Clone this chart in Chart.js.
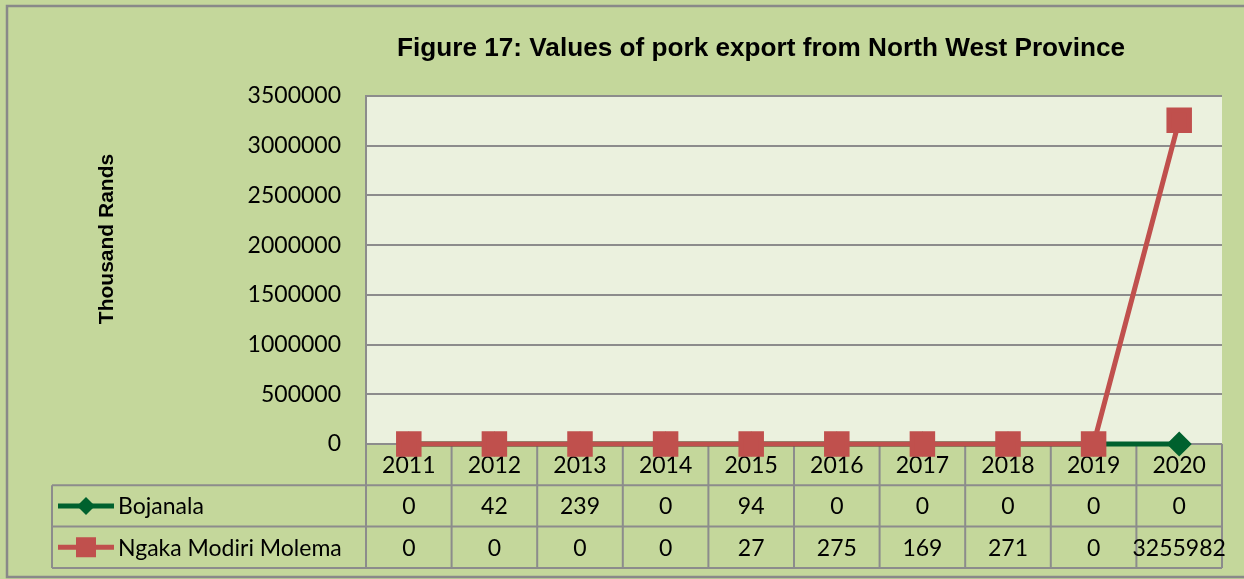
<!DOCTYPE html>
<html>
<head>
<meta charset="utf-8">
<script src="https://cdn.jsdelivr.net/npm/chart.js@4.4.1/dist/chart.umd.min.js"></script>
<style>
html,body{margin:0;padding:0;background:#C4D79B;}
canvas{display:block;}
</style>
</head>
<body>
<canvas id="c" width="1244" height="579"></canvas>
<script>
const chartTitle = "Figure 17: Values of pork export from North West Province";
const yAxisTitle = "Thousand Rands";
const categories = ["2011","2012","2013","2014","2015","2016","2017","2018","2019","2020"];
const seriesNames = ["Bojanala","Ngaka Modiri Molema"];
const bojanala = [0,42,239,0,94,0,0,0,0,0];
const ngaka = [0,0,0,0,27,275,169,271,0,3255982];
const yTicks = [0,500000,1000000,1500000,2000000,2500000,3000000,3500000];

const BG = "#C4D79B", PLOT_BG = "#EBF1DE", GRID = "#8C8C8C";
const RED = "#C0504D", GREEN = "#00612E";
const TXT_FONT = "Lato, 'Open Sans', sans-serif";

const decor = {
  id: "decor",
  beforeDraw(chart) {
    const ctx = chart.ctx, a = chart.chartArea;
    ctx.save();
    ctx.fillStyle = BG;
    ctx.fillRect(0, 0, chart.width, chart.height);
    ctx.fillStyle = PLOT_BG;
    ctx.fillRect(a.left, a.top, a.right - a.left, a.bottom - a.top);
    ctx.strokeStyle = "#898989";
    ctx.lineWidth = 2.5;
    ctx.strokeRect(7, 6, 1300, 571);
    // title
    ctx.fillStyle = "#000";
    ctx.font = "bold 25px 'Liberation Sans', Arial, sans-serif";
    ctx.textBaseline = "alphabetic";
    ctx.textAlign = "center";
    const w = ctx.measureText(chartTitle).width;
    const target = 728;
    ctx.save();
    ctx.translate(761, 56);
    ctx.scale(target / w, 1);
    ctx.fillText(chartTitle, 0, 0);
    ctx.restore();
    // y title
    ctx.save();
    ctx.font = "bold 21px 'Liberation Sans', Arial, sans-serif";
    ctx.translate(113, 239);
    ctx.rotate(-Math.PI / 2);
    ctx.fillText(yAxisTitle, 0, 0);
    ctx.restore();
    ctx.restore();
  },
  beforeDatasetsDraw(chart) {
    const ctx = chart.ctx, a = chart.chartArea, xs = chart.scales.x;
    const n = categories.length;
    const cw = (a.right - a.left) / n;
    const rowH = 41.3;
    const r0 = a.bottom, r1 = r0 + rowH, r2 = r1 + rowH, r3 = r2 + rowH;
    const tableLeft = 52;
    ctx.save();
    ctx.strokeStyle = GRID;
    ctx.lineWidth = 2;
    ctx.beginPath();
    for (let k = 0; k <= n; k++) {
      const x = a.left + cw * k;
      ctx.moveTo(x, r0); ctx.lineTo(x, r3);
    }
    ctx.moveTo(tableLeft, r1); ctx.lineTo(tableLeft, r3);
    [r1, r2, r3].forEach(y => { ctx.moveTo(tableLeft, y); ctx.lineTo(a.right, y); });
    ctx.moveTo(a.left, r0); ctx.lineTo(a.right, r0);
    ctx.stroke();

    // legend keys
    const keys = [
      {y: (r1 + r2) / 2, color: GREEN, shape: "diamond"},
      {y: (r2 + r3) / 2, color: RED, shape: "square"}
    ];
    keys.forEach((k, i) => {
      ctx.strokeStyle = k.color; ctx.fillStyle = k.color; ctx.lineWidth = 5;
      ctx.beginPath(); ctx.moveTo(58, k.y); ctx.lineTo(114, k.y); ctx.stroke();
      ctx.beginPath();
      if (k.shape === "diamond") {
        ctx.moveTo(86 - 9, k.y); ctx.lineTo(86, k.y - 9); ctx.lineTo(86 + 9, k.y); ctx.lineTo(86, k.y + 9);
        ctx.closePath(); ctx.fill();
      } else {
        ctx.fillRect(76, k.y - 10, 20, 20);
      }
      ctx.fillStyle = "#000";
      ctx.font = "23px " + TXT_FONT;
      ctx.textAlign = "left"; ctx.textBaseline = "middle";
      ctx.fillText(seriesNames[i], 118, k.y + 1);
    });
    // values
    ctx.fillStyle = "#000";
    ctx.font = "23px " + TXT_FONT;
    ctx.textAlign = "center"; ctx.textBaseline = "middle";
    const rows = [bojanala, ngaka];
    rows.forEach((vals, ri) => {
      const y = (ri === 0 ? (r1 + r2) / 2 : (r2 + r3) / 2) + 1;
      vals.forEach((v, i) => {
        const x = xs.getPixelForValue(i);
        ctx.fillText(String(v), x, y);
      });
    });
    ctx.restore();
  }
};

new Chart(document.getElementById("c"), {
  type: "line",
  data: {
    labels: categories,
    datasets: [
      {
        label: seriesNames[0], data: bojanala, order: 2,
        borderColor: GREEN, backgroundColor: GREEN,
        pointBackgroundColor: GREEN, pointBorderColor: GREEN,
        pointStyle: "rectRot", pointRadius: 9, borderWidth: 5, clip: false, tension: 0
      },
      {
        label: seriesNames[1], data: ngaka, order: 1,
        borderColor: RED, backgroundColor: RED,
        pointBackgroundColor: RED, pointBorderColor: RED,
        pointStyle: "rect", pointRadius: 14.5, borderWidth: 5, clip: false, tension: 0
      }
    ]
  },
  options: {
    responsive: false,
    devicePixelRatio: 1,
    animation: false,
    layout: { padding: { top: 96, right: 22, left: 0, bottom: 0 } },
    plugins: { legend: { display: false }, title: { display: false }, tooltip: { enabled: false } },
    scales: {
      x: {
        type: "category",
        offset: true,
        grid: { display: false, drawTicks: false },
        border: { display: false },
        ticks: { color: "#000", font: { family: TXT_FONT, size: 23 }, padding: 8, maxRotation: 0, autoSkip: false },
        afterFit(s) { s.height = 135; }
      },
      y: {
        min: 0, max: 3500000,
        afterBuildTicks(s) { s.ticks = yTicks.map(v => ({ value: v })); },
        grid: { color: GRID, lineWidth: 2, drawTicks: false },
        border: { display: true, color: GRID, width: 2 },
        ticks: { color: "#000", font: { family: TXT_FONT, size: 23 }, padding: 25, callback: v => String(v) },
        afterFit(s) { s.width = 366; }
      }
    }
  },
  plugins: [decor]
});
</script>
</body>
</html>
